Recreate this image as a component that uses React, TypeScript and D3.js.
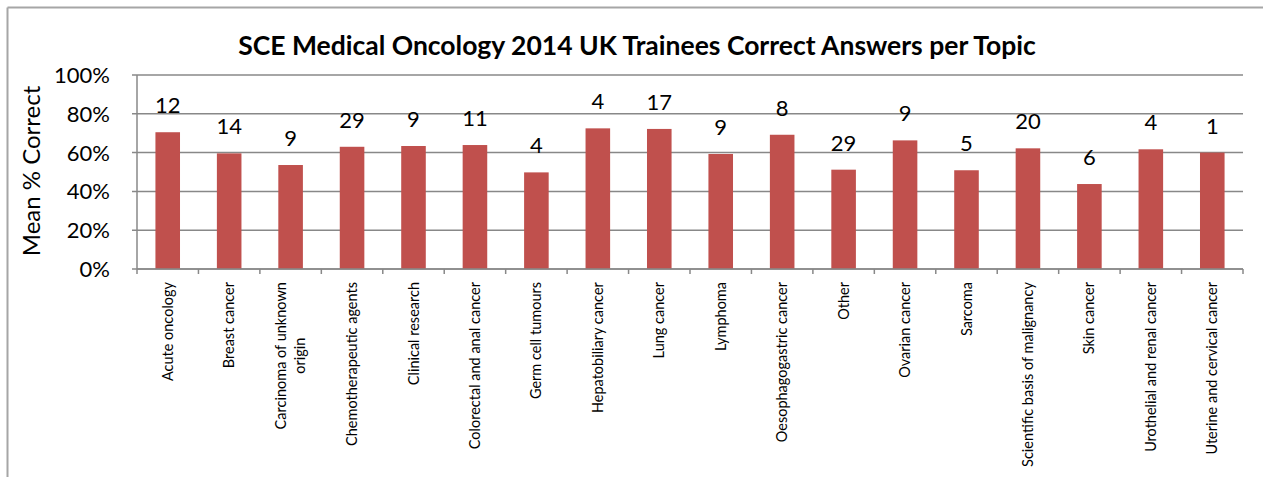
import * as d3 from "d3";

const categories = [
  "Acute oncology",
  "Breast cancer",
  "Carcinoma of unknown origin",
  "Chemotherapeutic agents",
  "Clinical research",
  "Colorectal and anal cancer",
  "Germ cell tumours",
  "Hepatobiliary cancer",
  "Lung cancer",
  "Lymphoma",
  "Oesophagogastric cancer",
  "Other",
  "Ovarian cancer",
  "Sarcoma",
  "Scientific basis of malignancy",
  "Skin cancer",
  "Urothelial and renal cancer",
  "Uterine and cervical cancer",
];

// mean % correct per topic
const scores = [70.5, 59.6, 53.6, 63.0, 63.4, 63.9, 49.8, 72.5, 72.2, 59.3, 69.2, 51.2, 66.3, 50.9, 62.2, 43.8, 61.7, 60.0];

// number of questions per topic (shown above the bars)
const questionCounts = [12, 14, 9, 29, 9, 11, 4, 4, 17, 9, 8, 29, 9, 5, 20, 6, 4, 1];

const yTicks = [0, 20, 40, 60, 80, 100];

// labels that wrap onto two lines
const labelLines: Record<string, string[]> = {
  "Carcinoma of unknown origin": ["Carcinoma of unknown", "origin"],
};

const FONT = "Lato, 'Open Sans', sans-serif";

function textWidth(s: string, font: string) {
  const ctx = document.createElement("canvas").getContext("2d");
  if (!ctx) return s.length * 7;
  ctx.font = font;
  return ctx.measureText(s).width;
}

export default function App() {
  const width = 1263;
  const height = 477;
  const plot = { left: 137, right: 1243, top: 75, bottom: 269 };

  const x = d3.scaleBand<string>()
    .domain(categories)
    .range([plot.left, plot.right])
    .paddingInner(0.6)
    .paddingOuter(0.3);

  const y = d3.scaleLinear().domain([0, 100]).range([plot.bottom, plot.top]);

  const step = x.step();
  const edges = d3.range(categories.length + 1).map(i => plot.left + i * step);
  const labelSize = 14.5;
  const labelTop = 282;

  return (
    <svg width={width} height={height} style={{ position: "absolute", left: 0, top: 0, background: "#fff" }}
      fontFamily={FONT}>
      {/* chart border */}
      <line x1={7.5} x2={7.5} y1={7.5} y2={height} stroke="#a6a6a6" strokeWidth={2} />
      <line x1={7.5} x2={width} y1={7.5} y2={7.5} stroke="#a6a6a6" strokeWidth={2} />

      {/* Title */}
      <text x={637} y={55} textAnchor="middle" fontSize={26.5} fontWeight={700} fill="#000">
        SCE Medical Oncology 2014 UK Trainees Correct Answers per Topic
      </text>

      {/* Y title */}
      <text transform={`translate(40,171) rotate(-90)`} textAnchor="middle" fontSize={24} fill="#000">
        Mean % Correct
      </text>

      {/* grid + y ticks */}
      {yTicks.map(t => (
        <g key={t}>
          <line x1={plot.left - 5} x2={plot.right} y1={y(t)} y2={y(t)} stroke="#888" strokeWidth={1.5} />
          <text x={110} y={y(t)} dy="0.36em" textAnchor="end" fontSize={22} fill="#000">{t}%</text>
        </g>
      ))}

      {/* Bars */}
      {categories.map((c, i) => (
        <rect key={c} x={x(c)} y={y(scores[i])} width={x.bandwidth()} height={y(0) - y(scores[i])} fill="#C0504D" />
      ))}

      {/* axes */}
      <line x1={plot.left} x2={plot.left} y1={plot.top} y2={plot.bottom} stroke="#888" strokeWidth={1.5} />
      <line x1={plot.left} x2={plot.right} y1={plot.bottom} y2={plot.bottom} stroke="#888" strokeWidth={1.5} />
      {edges.map((e, i) => (
        <line key={i} x1={e} x2={e} y1={plot.bottom} y2={plot.bottom + 5} stroke="#888" strokeWidth={1.5} />
      ))}

      {/* Count labels */}
      {categories.map((c, i) => (
        <text key={c} x={(x(c) ?? 0) + x.bandwidth() / 2} y={y(scores[i]) - 19} textAnchor="middle" fontSize={22} fill="#000">
          {questionCounts[i]}
        </text>
      ))}

      {/* X labels */}
      {categories.map(c => {
        const cx = (x(c) ?? 0) + x.bandwidth() / 2;
        const lines = labelLines[c] ?? [c];
        const lh = 19.5;
        const longest = d3.max(lines, l => textWidth(l, `${labelSize}px Lato`)) ?? 0;
        const mid = labelTop + longest / 2;
        return (
          <g key={c}>
            {lines.map((l, j) => {
              const lx = cx + (j - (lines.length - 1) / 2) * lh;
              return (
                <text key={j} transform={`translate(${lx},${mid}) rotate(-90)`} dy="0.35em" textAnchor="middle"
                  fontSize={labelSize} fill="#000">
                  {l}
                </text>
              );
            })}
          </g>
        );
      })}
    </svg>
  );
}
